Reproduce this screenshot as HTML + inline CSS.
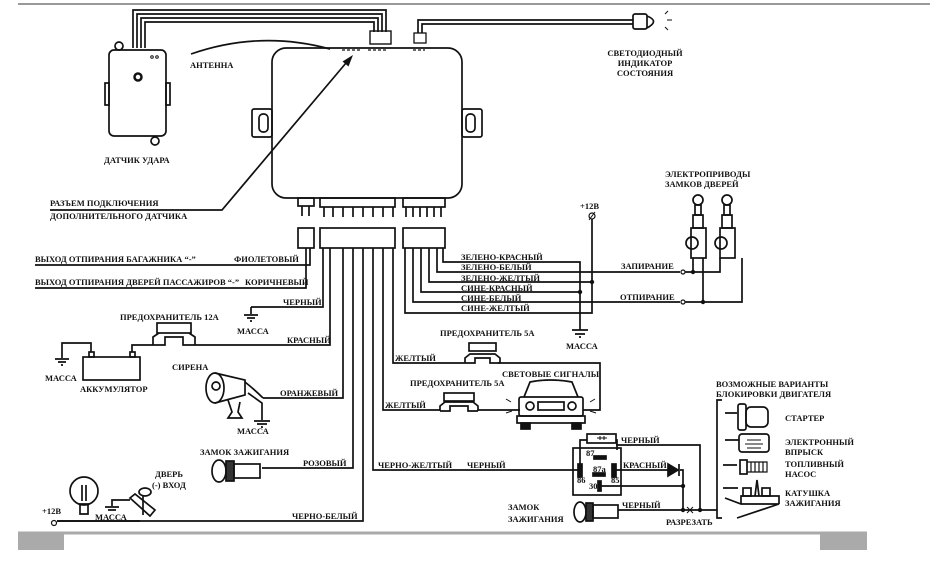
<!DOCTYPE html>
<html><head><meta charset="utf-8"><style>
html,body{margin:0;padding:0;background:#fff;}
svg{display:block;}
text{font-family:"Liberation Serif","DejaVu Serif",serif;font-weight:bold;font-size:8.5px;fill:#111;}
</style></head><body>
<svg width="930" height="577" viewBox="0 0 930 577" xmlns="http://www.w3.org/2000/svg">
<g fill="none" stroke="#111" stroke-width="1.7">
<line x1="18" y1="4" x2="930" y2="4" stroke="#999" stroke-width="2"/>
<path d="M133 48V10H386V32"/><path d="M137 48V14H382V32"/><path d="M141 48V18H378V32"/><path d="M145 48V22H374V32"/>
<rect x="370" y="31" width="21" height="13" stroke-width="1.4"/>
<path d="M418 33V20H633"/><path d="M422 33V24H633"/>
<rect x="414" y="33" width="12" height="10" stroke-width="1.3"/>
<rect x="633" y="14" width="14" height="15" rx="2"/><path d="M647 16Q660 21 647 28"/>
<path d="M665 14l3-3M667 20h5M665 27l3 3" stroke-width="1"/>
<rect x="272" y="48" width="190" height="150" rx="14"/>
<path d="M342 50h20M368 50h18M413 50h12" stroke-dasharray="3 2" stroke-width="1.2"/>
<rect x="252" y="109" width="20" height="28" rx="2"/><rect x="259" y="114" width="9" height="18" rx="4"/>
<rect x="462" y="109" width="20" height="28" rx="2"/><rect x="466" y="114" width="9" height="18" rx="4"/>
<rect x="109" y="50" width="57" height="86" rx="5"/>
<circle cx="119" cy="46" r="4"/><circle cx="155" cy="141" r="4"/>
<rect x="105" y="83" width="4" height="22"/><rect x="166" y="83" width="4" height="22"/>
<circle cx="138" cy="77" r="3.5" stroke-width="2.5"/>
<circle cx="152" cy="57" r="1.3" stroke-width="1"/><circle cx="157" cy="57" r="1.3" stroke-width="1"/>
<path d="M191 54Q260 30 330 49"/>
<path d="M50 210H222L346 63"/>
<rect x="298" y="198" width="16" height="8"/><path d="M302 206v10M309 206v10"/>
<rect x="320" y="198" width="75" height="9"/>
<path d="M324 207v10M333 207v10M343 207v10M353 207v10M363 207v10M373 207v10M383 207v10M393 207v10"/>
<rect x="403" y="198" width="42" height="9"/>
<path d="M406 207v10M413 207v10M420 207v10M427 207v10M434 207v10M441 207v10"/>
<rect x="298" y="228" width="16" height="20"/>
<rect x="320" y="228" width="75" height="20"/>
<rect x="403" y="228" width="42" height="20"/>
<path d="M35 265H310V248"/><path d="M35 288H306V248"/>
<path d="M251 307H323V248"/><path d="M251 307v7M244 315h14M247 318h8M250 321h2"/>
<path d="M195 345H330V248"/>
<path d="M263 398H343V248"/>
<path d="M262 468H353V248"/>
<path d="M57 521H363V248"/>
<path d="M373 248V470H580"/>
<path d="M383 248V410H440"/><path d="M478 410H520"/><path d="M583 410H600V363H498"/>
<path d="M393 248V363H465"/>
<path d="M443 248V262H580V330"/>
<path d="M437 248V272H680"/>
<path d="M429 248V282H592"/>
<path d="M421 248V292H580"/>
<path d="M413 248V302H680"/>
<path d="M405 248V313H592V219"/>
<circle cx="592" cy="216" r="3" stroke-width="1.2"/><path d="M589 220l6-8" stroke-width="1"/>
<path d="M572 330h16M575 334h10M579 337h2"/>
<circle cx="683" cy="272" r="2" stroke-width="1.2"/><circle cx="683" cy="302" r="2" stroke-width="1.2"/>
<path d="M685 272H720V258"/><path d="M693 272V258"/><path d="M685 302H742V258"/><path d="M703 302V258"/>
<circle cx="698" cy="200" r="5"/><circle cx="727" cy="200" r="5"/>
<rect x="695" y="205" width="6" height="10"/><rect x="724" y="205" width="6" height="10"/>
<rect x="693" y="215" width="10" height="13"/><rect x="722" y="215" width="10" height="13"/>
<rect x="691" y="228" width="15" height="30"/><rect x="720" y="228" width="15" height="30"/>
<circle cx="692" cy="243" r="6"/><circle cx="721" cy="243" r="6"/>
<rect x="157" y="323" width="34" height="10"/><path d="M153 345v-8l6-4M195 345v-8l-6-4M153 345h12v-8h18v8h12"/>
<rect x="83" y="357" width="57" height="23"/>
<rect x="89" y="352" width="5" height="5"/><rect x="130" y="352" width="5" height="5"/>
<path d="M91 352V343H62V358"/><path d="M55 359h14M58 362h8M61 365h2"/>
<path d="M132 352V345H153"/>
<ellipse cx="215" cy="388" rx="9" ry="15"/><circle cx="216" cy="386" r="4"/>
<path d="M215 373L245 380V395L215 403"/><path d="M245 382Q255 390 263 398"/>
<path d="M248 393L262 403V420"/><path d="M254 421h16M257 424h10M261 427h2"/>
<path d="M228 400l4 12l-4 6h14l-4-6l2-10"/>
<ellipse cx="219" cy="471" rx="7" ry="11"/><rect x="226" y="461" width="8" height="20" fill="#333"/><rect x="234" y="464" width="26" height="14"/>
<circle cx="84" cy="491" r="14"/><path d="M80 504h8v10h-8z"/><path d="M82 485v16M86 485v16"/>
<path d="M57 521H140"/><circle cx="54" cy="523" r="2.5" stroke-width="1.2"/>
<path d="M130 500H112v6M105 507h14M108 510h8"/>
<path d="M130 498l20 18l5-6l-20-16z"/><ellipse cx="145" cy="492" rx="6" ry="4"/><path d="M143 495v20"/>
<rect x="469" y="343" width="27" height="8"/><path d="M465 363v-5l5-4h25l5 4v5M465 363h10v-5h15v5h10"/>
<rect x="444" y="393" width="30" height="8"/><path d="M440 411v-5l5-4h28l5 4v5M440 411h10v-5h18v5h10"/>
<path d="M524 397L530 382Q550 378 572 382L578 397"/>
<rect x="519" y="397" width="64" height="19" rx="2"/>
<rect x="517" y="416" width="68" height="7"/>
<rect x="521" y="423" width="9" height="6" fill="#111"/><rect x="572" y="423" width="9" height="6" fill="#111"/>
<circle cx="530" cy="406" r="4"/><circle cx="572" cy="406" r="4"/><rect x="538" y="402" width="26" height="8"/>
<path d="M511 402l-5-3M512 411l-6 2M590 402l5-3M590 411l6 2" stroke-width="1"/>
<rect x="573" y="448" width="48" height="47"/>
<path d="M580 470V440H587M616 440H617V450"/><rect x="587" y="434" width="29" height="9"/>
<path d="M597 438h10M600 436v4M604 436v4" stroke-width="1"/>
<path d="M616 445H700V510"/>
<rect x="578" y="464" width="4" height="13" fill="#111"/><rect x="612" y="464" width="4" height="13" fill="#111"/>
<rect x="594" y="456" width="12" height="3" fill="#111"/><rect x="593" y="473" width="12" height="3" fill="#111"/>
<rect x="598" y="481" width="3" height="10" fill="#111"/>
<path d="M616 470H668M680 470H683V510"/><path d="M668 464v12l10-6z" fill="#111"/><path d="M679 464v12"/>
<path d="M600 486H683"/>
<ellipse cx="580" cy="512" rx="6" ry="10"/><rect x="586" y="503" width="7" height="18" fill="#333"/><rect x="593" y="505" width="25" height="13"/>
<path d="M618 510H717"/><path d="M687 507l6 6M693 507l-6 6" stroke-width="1"/>
<path d="M722 400H717V518H722"/>
<path d="M725 413h12M725 440h14M723 465h14M723 488h15"/>
<rect x="738" y="404" width="8" height="26" rx="2"/><rect x="746" y="407" width="22" height="20" rx="5"/>
<rect x="739" y="434" width="30" height="18" rx="3"/><path d="M747 440h14M745 444h18M747 448h14" stroke-width="1"/>
<rect x="740" y="460" width="7" height="14"/><path d="M747 462h20v10h-20M751 462v10M755 462v10M759 462v10M763 462v10" stroke-width="1.2"/>
<path d="M725 498l16 6h38l-42 14M741 504v-8h38v8"/><rect x="743" y="488" width="8" height="8"/><rect x="762" y="488" width="8" height="8"/><path d="M755 496l2-16l2 16"/>
<line x1="18" y1="533" x2="867" y2="533" stroke="#aaa" stroke-width="3"/>
</g>
<polygon points="353,55 348.5,66.5 342.5,61.5" fill="#111"/>
<rect x="18" y="532" width="46" height="18" fill="#aaa"/>
<rect x="820" y="532" width="47" height="18" fill="#aaa"/>
<g fill="#111">
<circle cx="592" cy="282" r="2.2"/><circle cx="580" cy="292" r="2.2"/>
<circle cx="693" cy="272" r="2.2"/><circle cx="703" cy="302" r="2.2"/>
<circle cx="683" cy="486" r="2.2"/><circle cx="683" cy="510" r="2.2"/><circle cx="700" cy="510" r="2.2"/>
</g>
<text x="190" y="68">АНТЕННА</text>
<text x="104" y="163">ДАТЧИК УДАРА</text>
<text x="50" y="206">РАЗЪЕМ ПОДКЛЮЧЕНИЯ</text>
<text x="50" y="219">ДОПОЛНИТЕЛЬНОГО ДАТЧИКА</text>
<text x="35" y="262">ВЫХОД ОТПИРАНИЯ БАГАЖНИКА “-”</text>
<text x="234" y="262">ФИОЛЕТОВЫЙ</text>
<text x="35" y="285">ВЫХОД ОТПИРАНИЯ ДВЕРЕЙ ПАССАЖИРОВ “-”</text>
<text x="245" y="285">КОРИЧНЕВЫЙ</text>
<text x="283" y="305">ЧЕРНЫЙ</text>
<text x="237" y="334">МАССА</text>
<text x="120" y="320">ПРЕДОХРАНИТЕЛЬ 12А</text>
<text x="287" y="343">КРАСНЫЙ</text>
<text x="45" y="381">МАССА</text>
<text x="80" y="392">АККУМУЛЯТОР</text>
<text x="172" y="370">СИРЕНА</text>
<text x="280" y="396">ОРАНЖЕВЫЙ</text>
<text x="237" y="434">МАССА</text>
<text x="200" y="455">ЗАМОК ЗАЖИГАНИЯ</text>
<text x="303" y="466">РОЗОВЫЙ</text>
<text x="155" y="477">ДВЕРЬ</text>
<text x="152" y="488">(-) ВХОД</text>
<text x="42" y="514">+12В</text>
<text x="95" y="520">МАССА</text>
<text x="292" y="519">ЧЕРНО-БЕЛЫЙ</text>
<text x="645" y="56" text-anchor="middle">СВЕТОДИОДНЫЙ</text>
<text x="645" y="66" text-anchor="middle">ИНДИКАТОР</text>
<text x="645" y="76" text-anchor="middle">СОСТОЯНИЯ</text>
<text x="665" y="177">ЭЛЕКТРОПРИВОДЫ</text>
<text x="665" y="187">ЗАМКОВ ДВЕРЕЙ</text>
<text x="580" y="209">+12В</text>
<text x="461" y="260">ЗЕЛЕНО-КРАСНЫЙ</text>
<text x="461" y="270">ЗЕЛЕНО-БЕЛЫЙ</text>
<text x="461" y="281">ЗЕЛЕНО-ЖЕЛТЫЙ</text>
<text x="461" y="291">СИНЕ-КРАСНЫЙ</text>
<text x="461" y="301">СИНЕ-БЕЛЫЙ</text>
<text x="461" y="311">СИНЕ-ЖЕЛТЫЙ</text>
<text x="621" y="269">ЗАПИРАНИЕ</text>
<text x="620" y="300">ОТПИРАНИЕ</text>
<text x="566" y="349">МАССА</text>
<text x="440" y="336">ПРЕДОХРАНИТЕЛЬ 5А</text>
<text x="395" y="361">ЖЕЛТЫЙ</text>
<text x="502" y="377">СВЕТОВЫЕ СИГНАЛЫ</text>
<text x="410" y="386">ПРЕДОХРАНИТЕЛЬ 5А</text>
<text x="385" y="408">ЖЕЛТЫЙ</text>
<text x="378" y="468">ЧЕРНО-ЖЕЛТЫЙ</text>
<text x="467" y="468">ЧЕРНЫЙ</text>
<text x="621" y="443">ЧЕРНЫЙ</text>
<text x="623" y="468">КРАСНЫЙ</text>
<text x="622" y="508">ЧЕРНЫЙ</text>
<text x="508" y="510">ЗАМОК</text>
<text x="508" y="522">ЗАЖИГАНИЯ</text>
<text x="666" y="525">РАЗРЕЗАТЬ</text>
<text x="716" y="387">ВОЗМОЖНЫЕ ВАРИАНТЫ</text>
<text x="716" y="397">БЛОКИРОВКИ ДВИГАТЕЛЯ</text>
<text x="785" y="421">СТАРТЕР</text>
<text x="785" y="445">ЭЛЕКТРОННЫЙ</text>
<text x="785" y="455">ВПРЫСК</text>
<text x="785" y="467">ТОПЛИВНЫЙ</text>
<text x="785" y="477">НАСОС</text>
<text x="785" y="496">КАТУШКА</text>
<text x="785" y="506">ЗАЖИГАНИЯ</text>
<g style="font-size:5px">
<text x="586" y="456">87</text><text x="593" y="472">87a</text><text x="577" y="483">86</text><text x="611" y="483">85</text><text x="589" y="489">30</text>
</g>
</svg>
</body></html>
